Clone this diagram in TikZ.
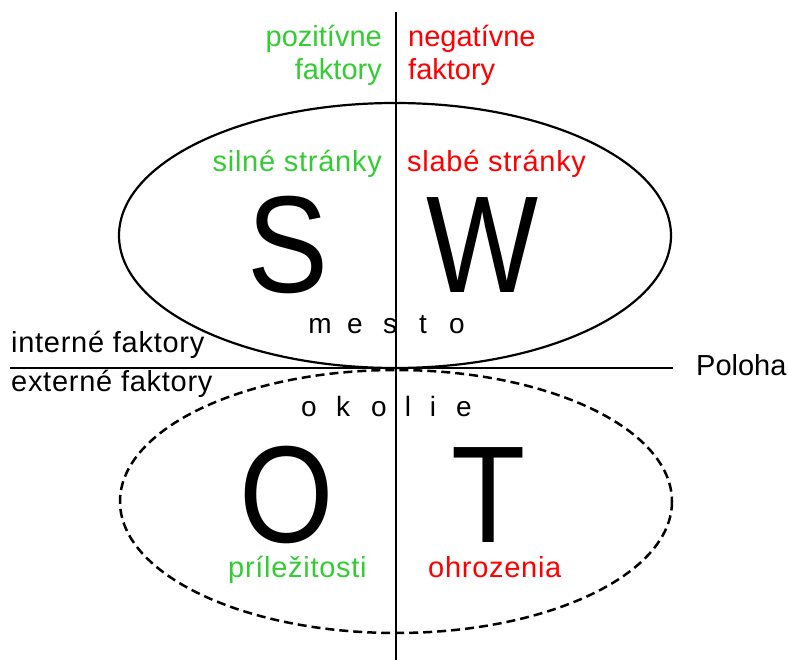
\documentclass[tikz,border=0pt]{standalone}
\usepackage{fontspec}
\setmainfont{Liberation Sans}
\newfontfamily\widefont[LetterSpace=2.5]{Liberation Sans}
\definecolor{posgreen}{RGB}{51,204,51}
\definecolor{negred}{RGB}{255,0,0}
\tikzset{
  lbl/.style={inner sep=0pt, font=\fontsize{29}{32}\selectfont},
  widelbl/.style={inner sep=0pt, font=\widefont\fontsize{29}{32}\selectfont},
  big/.style={inner sep=0pt, font=\fontsize{138}{140}\selectfont, anchor=base},
  spaced/.style={inner sep=0pt, font=\fontsize{28}{30}\selectfont, anchor=base},
  axis/.style={line width=2pt},
  ring/.style={line width=2.2pt},
  dashring/.style={line width=2.5pt, dash pattern=on 9pt off 5pt}
}
\begin{document}
\begin{tikzpicture}[x=1pt,y=-1pt]
\useasboundingbox (0,0) rectangle (788,660);
% ellipses
\draw[ring] (395,235.5) ellipse [x radius=276, y radius=132.5];
\draw[dashring] (396,501.5) ellipse [x radius=276, y radius=131.5];
% axes
\coordinate (vtop) at (396,12);
\coordinate (vbot) at (396,660);
\coordinate (hl) at (10,368);
\coordinate (hr) at (673,368);
\draw[axis] (vtop) -- (vbot);
\draw[axis] (hl) -- (hr);
% top labels
\node[lbl, text=posgreen, anchor=base east] (poz) at (382,47) {pozitívne};
\node[lbl, text=posgreen, anchor=base east] (fak1) at (382,80) {faktory};
\node[lbl, text=negred, anchor=base west] (neg) at (408,47) {negatívne};
\node[lbl, text=negred, anchor=base west] (fak2) at (408,80) {faktory};
% upper ellipse
\node[widelbl, text=posgreen, anchor=base east] (silne) at (382,172) {silné stránky};
\node[widelbl, text=negred, anchor=base west] (slabe) at (407,172) {slabé stránky};
\node[big] (S) at (288,293) {\scalebox{0.88}[1]{S}};
\node[big] (W) at (483,293) {\scalebox{0.86}[1]{W}};
\foreach \ch/\xx [count=\i] in {m/320,e/355,s/390,t/423,o/457}
  \node[spaced] (mesto\i) at (\xx,334) {\ch};
% side labels
\node[widelbl, anchor=base west] (int) at (11,353) {interné faktory};
\node[widelbl, anchor=base west] (ext) at (11,392) {externé faktory};
\node[lbl, anchor=base west] (pol) at (696,376) {Poloha};
% lower ellipse
\foreach \ch/\xx [count=\i] in {o/309,k/343,o/379,l/408,i/433,e/464}
  \node[spaced] (okolie\i) at (\xx,417) {\ch};
\node[big] (O) at (287,542) {\scalebox{0.88}[1]{O}};
\node[big] (T) at (489,542) {\scalebox{0.88}[1]{T}};
\node[widelbl, text=posgreen, anchor=base west] (pril) at (228,577) {príležitosti};
\node[widelbl, text=negred, anchor=base west] (ohr) at (428,577) {ohrozenia};
\end{tikzpicture}
\end{document}
